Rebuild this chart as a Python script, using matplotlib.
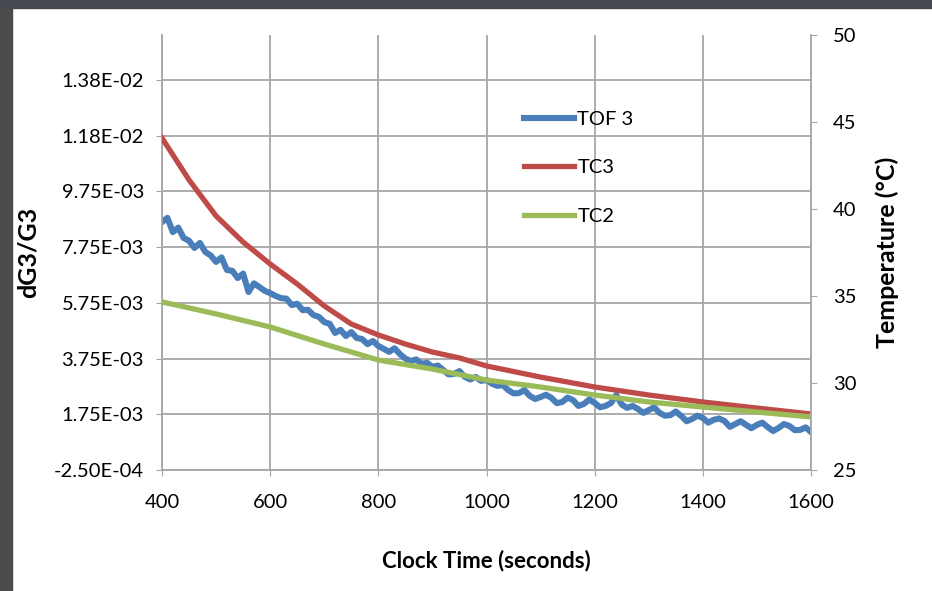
import matplotlib
matplotlib.use("Agg")
from matplotlib import pyplot as plt
from matplotlib.patches import Rectangle

# TOF 3 (left axis), read every 10 s off the chart
tof_time = list(range(400, 1601, 10))
tof3 = [0.00865, 0.00880, 0.00829, 0.00845, 0.00808, 0.00798, 0.00772, 0.00790, 0.00758, 0.00745,
        0.00722, 0.00738, 0.00693, 0.00690, 0.00664, 0.00680, 0.00614, 0.00645, 0.00632, 0.00618,
        0.00610, 0.00600, 0.00592, 0.00590, 0.00567, 0.00572, 0.00549, 0.00550, 0.00531, 0.00525,
        0.00506, 0.00500, 0.00467, 0.00478, 0.00456, 0.00470, 0.00449, 0.00445, 0.00427, 0.00438,
        0.00420, 0.00410, 0.00399, 0.00412, 0.00391, 0.00375, 0.00366, 0.00372, 0.00356, 0.00360,
        0.00345, 0.00350, 0.00334, 0.00318, 0.00320, 0.00330, 0.00309, 0.00300, 0.00309, 0.00295,
        0.00298, 0.00285, 0.00277, 0.00280, 0.00262, 0.00250, 0.00251, 0.00262, 0.00241, 0.00230,
        0.00237, 0.00245, 0.00234, 0.00215, 0.00219, 0.00235, 0.00226, 0.00205, 0.00212, 0.00228,
        0.00216, 0.00200, 0.00205, 0.00215, 0.00244, 0.00210, 0.00198, 0.00205, 0.00194, 0.00180,
        0.00190, 0.00200, 0.00180, 0.00170, 0.00172, 0.00185, 0.00169, 0.00150, 0.00158, 0.00170,
        0.00162, 0.00145, 0.00155, 0.00160, 0.00151, 0.00130, 0.00140, 0.00150, 0.00137, 0.00125,
        0.00137, 0.00145, 0.00129, 0.00115, 0.00126, 0.00140, 0.00133, 0.00118, 0.00119, 0.00128,
        0.00111]

# TC3 / TC2 temperatures (right axis)
tc3_time = [400, 450, 500, 550, 600, 650, 700, 750, 800, 850, 900, 950,
            1000, 1100, 1200, 1300, 1400, 1500, 1600]
tc3 = [44.08, 41.67, 39.60, 38.10, 36.84, 35.69, 34.43, 33.39, 32.76, 32.24, 31.78, 31.44,
       30.98, 30.34, 29.77, 29.31, 28.91, 28.56, 28.22]

tc2_time = [400, 500, 600, 700, 800, 900, 1000, 1100, 1200, 1300, 1400, 1500, 1600]
tc2 = [34.66, 33.97, 33.22, 32.24, 31.32, 30.80, 30.17, 29.77, 29.31, 28.91, 28.62, 28.33, 28.05]

left_ticks = [-0.00025, 0.00175, 0.00375, 0.00575, 0.00775, 0.00975, 0.01175, 0.01375]
left_labels = ["-2.50E-04", "1.75E-03", "3.75E-03", "5.75E-03", "7.75E-03",
               "9.75E-03", "1.18E-02", "1.38E-02"]
x_ticks = [400, 600, 800, 1000, 1200, 1400, 1600]
right_ticks = [25, 30, 35, 40, 45, 50]

plt.rcParams['font.family'] = ['Lato', 'DejaVu Sans']

fig = plt.figure(figsize=(9.32, 5.91), dpi=100)
fig.patches.append(Rectangle((0, 0), 12 / 932, 1, transform=fig.transFigure,
                             color='#4b4b4b', zorder=0))
fig.patches.append(Rectangle((0, 1 - 8 / 591), 1, 8 / 591, transform=fig.transFigure,
                             color='#45484f', zorder=0))

ax = fig.add_axes([162 / 932, 121 / 591, 649 / 932, 435 / 591])
grid_c = '#a6a6a6'
ax.set_xlim(400, 1600)
ax.set_ylim(-0.00025, 0.015365)
ax.set_xticks(x_ticks)
ax.set_yticks(left_ticks)
ax.set_yticklabels(left_labels)
ax.grid(True, color=grid_c, linewidth=1.3)
ax.set_axisbelow(True)
for s in ['top', 'right']:
    ax.spines[s].set_visible(False)
for s in ['left', 'bottom']:
    ax.spines[s].set_color(grid_c)
    ax.spines[s].set_linewidth(1.3)
ax.tick_params(axis='y', colors=grid_c, labelcolor='black', labelsize=14.5, length=4, pad=9)
ax.tick_params(axis='x', colors=grid_c, labelcolor='black', labelsize=14.5, length=4, pad=13)

l1, = ax.plot(tof_time, tof3, color='#4a7ebb', linewidth=4.4, label='TOF 3')

ax2 = ax.twinx()
ax2.set_ylim(25, 50)
ax2.set_yticks(right_ticks)
for s in ['top', 'left', 'bottom']:
    ax2.spines[s].set_visible(False)
ax2.spines['right'].set_color(grid_c)
ax2.spines['right'].set_linewidth(1.3)
ax2.tick_params(axis='y', colors=grid_c, labelcolor='black', labelsize=14.5, length=4, pad=12)

l2, = ax2.plot(tc3_time, tc3, color='#be4b48', linewidth=3.8, label='TC3')
l3, = ax2.plot(tc2_time, tc2, color='#9bbb59', linewidth=3.8, label='TC2')

ax.set_xlabel('Clock Time (seconds)', fontsize=16, fontweight='bold')
ax.xaxis.set_label_coords(0.5, -0.184)
ax.set_ylabel('dG3/G3', fontsize=18, fontweight='bold')
ax.yaxis.set_label_coords(-0.188, 0.5)
ax2.set_ylabel('Temperature (°C)', fontsize=18, fontweight='bold')
ax2.yaxis.set_label_coords(1.10, 0.5)

ax2.legend(handles=[l1, l2, l3], loc='upper left', frameon=False, fontsize=14.5,
           bbox_to_anchor=(514 / 932, 1 - 101 / 591), bbox_transform=fig.transFigure,
           borderpad=0, handlelength=2.5, handletextpad=0.15, labelspacing=1.55)

fig.savefig('out.png', dpi=100)
